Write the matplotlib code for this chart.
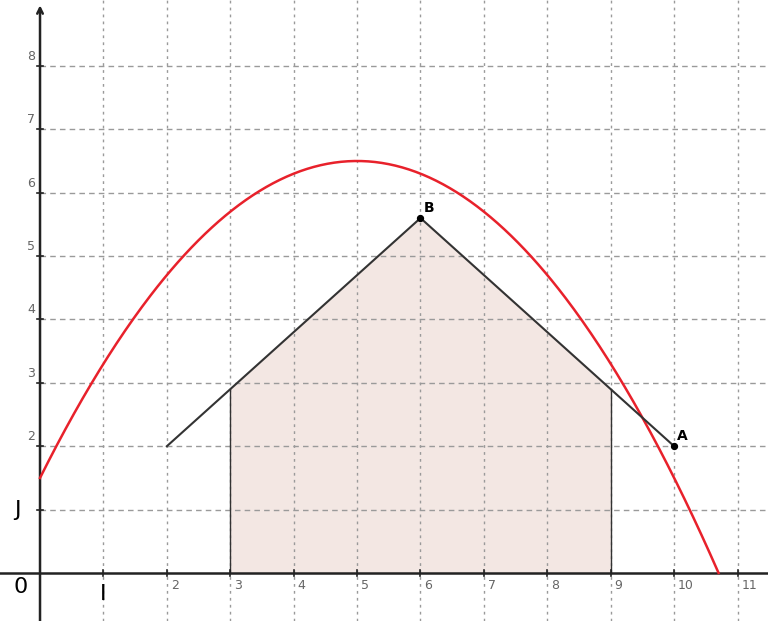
import numpy as np
import matplotlib.pyplot as plt

# parabole f(x) = a*(x - h)^2 + k
a_coef = -0.2
h_vertex = 5
k_vertex = 6.5
x_curve_start = 0
x_curve_end = 10.7

# polyline and points
poly_x = [2, 6, 10]
poly_y = [2, 5.6, 2]
point_names = ['B', 'A']
point_x = [6, 10]
point_y = [5.6, 2]

# shaded area bounds
x_left, x_right = 3, 9

x_ticks = [2, 3, 4, 5, 6, 7, 8, 9, 10, 11]
y_ticks = [2, 3, 4, 5, 6, 7, 8]

fig = plt.figure(figsize=(7.68, 6.21), dpi=100)
ax = fig.add_axes([0, 0, 1, 1])
ax.set_xlim(-0.631, 11.48)
ax.set_ylim(-0.757, 9.04)
ax.axis('off')

# grid
for gx in range(1, 12):
    ax.axvline(gx, color='#9a9a9a', lw=1, ls=(0, (2, 3)), zorder=1)
for gy in range(1, 9):
    ax.hlines(gy, 0, 11.48, color='#9a9a9a', lw=1, ls=(0, (4, 3)), zorder=1)

# shaded area under the polyline
xs = np.linspace(x_left, x_right, 200)
ys = np.interp(xs, poly_x, poly_y)
ax.fill_between(xs, 0, ys, color='#f3e7e3', zorder=0.5)
ax.plot([x_left, x_left], [0, np.interp(x_left, poly_x, poly_y)], color='#333333', lw=1, zorder=2)
ax.plot([x_right, x_right], [0, np.interp(x_right, poly_x, poly_y)], color='#333333', lw=1, zorder=2)

# axes
ax.axhline(0, color='#222222', lw=1.8, zorder=3)
ax.annotate('', xy=(0, 9.0), xytext=(0, -0.8),
            arrowprops=dict(arrowstyle='->', color='#222222', lw=1.8), zorder=3)
for t in range(1, 12):
    ax.plot([t, t], [-0.04, 0.04], color='#222222', lw=1.2, zorder=3)
for t in range(1, 9):
    ax.plot([-0.04, 0.04], [t, t], color='#222222', lw=1.2, zorder=3)

# tick labels
for t in x_ticks:
    ax.text(t + 0.06, -0.1, str(t), color='#666666', fontsize=9, ha='left', va='top')
for t in y_ticks:
    ax.text(-0.08, t + 0.05, str(t), color='#666666', fontsize=9, ha='right', va='bottom')
ax.text(-0.3, -0.22, '0', fontsize=16, ha='center', va='center')
ax.text(1, -0.33, 'I', fontsize=16, ha='center', va='center')
ax.text(-0.36, 1, 'J', fontsize=16, ha='center', va='center')

# curve
xc = np.linspace(x_curve_start, x_curve_end, 400)
yc = a_coef * (xc - h_vertex) ** 2 + k_vertex
ax.plot(xc, yc, color='#e8212b', lw=1.8, zorder=4)

# polyline
ax.plot(poly_x, poly_y, color='#333333', lw=1.5, zorder=4)
ax.scatter(point_x, point_y, color='black', s=18, zorder=5)
for name, px, py in zip(point_names, point_x, point_y):
    ax.text(px + 0.05, py + 0.05, name, fontsize=10, fontweight='bold', ha='left', va='bottom')

fig.savefig('out.png', dpi=100)
